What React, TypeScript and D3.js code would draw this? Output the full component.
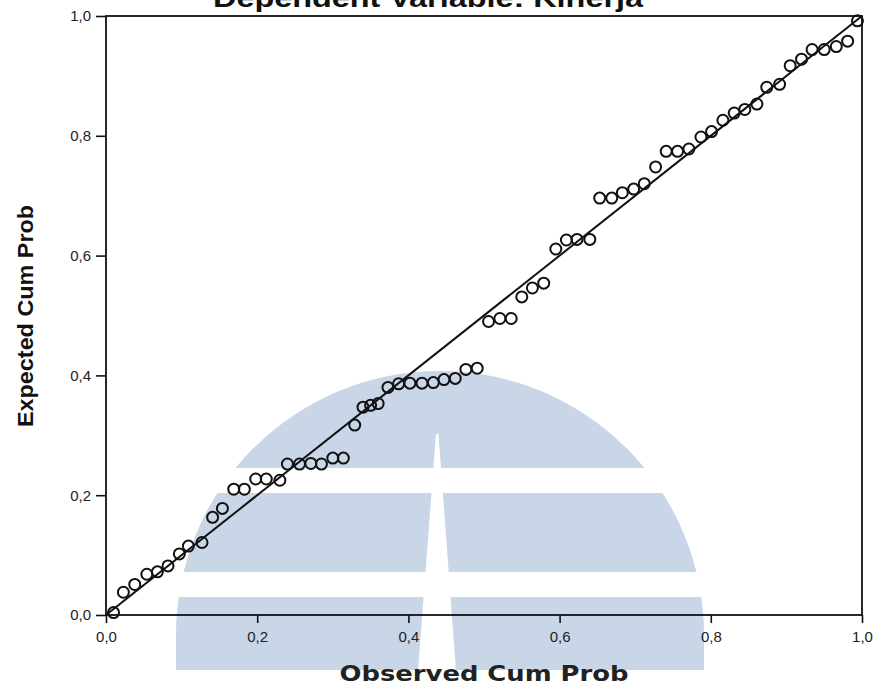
import { useRef, useEffect } from "react";
import * as d3 from "d3";

// Normal P-P plot of regression standardized residual
const observedCum = [
  0.010, 0.023, 0.038, 0.054, 0.068, 0.082, 0.097, 0.109, 0.127, 0.141,
  0.154, 0.169, 0.183, 0.198, 0.212, 0.230, 0.240, 0.256, 0.271, 0.285,
  0.300, 0.314, 0.329, 0.340, 0.350, 0.360, 0.373, 0.387, 0.402, 0.418,
  0.433, 0.447, 0.462, 0.476, 0.491, 0.506, 0.521, 0.536, 0.550, 0.564,
  0.579, 0.595, 0.609, 0.623, 0.640, 0.653, 0.669, 0.683, 0.698, 0.712,
  0.727, 0.741, 0.756, 0.771, 0.787, 0.801, 0.816, 0.831, 0.845, 0.861,
  0.874, 0.891, 0.905, 0.920, 0.934, 0.950, 0.966, 0.981, 0.994,
];
const expectedCum = [
  0.004, 0.038, 0.051, 0.068, 0.072, 0.082, 0.102, 0.115, 0.121, 0.163,
  0.178, 0.210, 0.210, 0.227, 0.227, 0.225, 0.252, 0.252, 0.253, 0.252,
  0.262, 0.262, 0.317, 0.347, 0.350, 0.353, 0.380, 0.386, 0.387, 0.387,
  0.388, 0.393, 0.395, 0.410, 0.412, 0.490, 0.495, 0.495, 0.531, 0.546,
  0.554, 0.611, 0.626, 0.627, 0.627, 0.696, 0.696, 0.705, 0.711, 0.720,
  0.748, 0.774, 0.774, 0.778, 0.798, 0.807, 0.826, 0.838, 0.844, 0.853,
  0.881, 0.886, 0.917, 0.928, 0.944, 0.944, 0.949, 0.958, 0.992,
];
const tickValues = [0, 0.2, 0.4, 0.6, 0.8, 1.0];

const width = 882;
const height = 687;
const margin = { top: 16, right: 20, bottom: 72, left: 106 };

const App = () => {
  const xAxisRef = useRef<SVGGElement>(null);
  const yAxisRef = useRef<SVGGElement>(null);

  const x = d3.scaleLinear().domain([0, 1]).range([margin.left, width - margin.right]);
  const y = d3.scaleLinear().domain([0, 1]).range([height - margin.bottom, margin.top]);
  const fmt = (d: number) => d3.format(".1f")(d).replace(".", ",");

  useEffect(() => {
    const xAxis = d3.axisBottom(x).tickValues(tickValues).tickSize(8).tickPadding(8).tickFormat(fmt as any);
    const yAxis = d3.axisLeft(y).tickValues(tickValues).tickSize(10).tickPadding(5).tickFormat(fmt as any);
    const gx = d3.select(xAxisRef.current).call(xAxis);
    const gy = d3.select(yAxisRef.current).call(yAxis);
    [gx, gy].forEach((g) => {
      g.select(".domain").remove();
      g.selectAll("line").attr("stroke", "#111").attr("stroke-width", 1.6);
      g.selectAll("text")
        .attr("font-family", "'Liberation Sans', Arial, sans-serif")
        .attr("font-size", 15)
        .attr("fill", "#222");
    });
  }, []);

  const pts = observedCum.map((o, i) => ({ o, e: expectedCum[i] }));

  // watermark logo (light blue dome)
  const cx = 440, cy = 635, r = 264, bottom = 670;
  const dome = `M${cx - r},${cy} A${r},${r} 0 0 1 ${cx + r},${cy} L${cx + r},${bottom} L${cx - r},${bottom} Z`;

  return (
    <svg width={width} height={height} style={{ position: "absolute", left: 0, top: 0, background: "#fff" }}>
      <g>
        <path d={dome} fill="#c8d6e8" />
        <rect x={cx - r - 5} y={468} width={2 * r + 10} height={25} fill="#fff" />
        <rect x={cx - r - 5} y={572} width={2 * r + 10} height={25} fill="#fff" />
        <polygon points="436,434 438.5,434 456,671 418,671" fill="#fff" />
      </g>

      <text
        x={428}
        y={7}
        textAnchor="middle"
        fontFamily="'Liberation Sans', Arial, sans-serif"
        fontWeight="bold"
        fontSize={25}
        textLength={430}
        lengthAdjust="spacingAndGlyphs"
        fill="#111"
      >
        Dependent Variable: Kinerja
      </text>

      <rect
        x={x(0)}
        y={y(1)}
        width={x(1) - x(0)}
        height={y(0) - y(1)}
        fill="none"
        stroke="#111"
        strokeWidth={1.8}
      />

      <line x1={x(0)} y1={y(0)} x2={x(1)} y2={y(1)} stroke="#111" strokeWidth={2} />

      {pts.map((d, i) => (
        <circle key={i} cx={x(d.o)} cy={y(d.e)} r={5.5} fill="none" stroke="#111" strokeWidth={2} />
      ))}

      <g ref={xAxisRef} transform={`translate(0, ${y(0)})`} />
      <g ref={yAxisRef} transform={`translate(${x(0)}, 0)`} />

      <text
        x={484}
        y={681}
        textAnchor="middle"
        fontFamily="'DejaVu Sans', Verdana, sans-serif"
        fontWeight="bold"
        fontSize={21}
        textLength={289}
        lengthAdjust="spacingAndGlyphs"
        fill="#222"
      >
        Observed Cum Prob
      </text>

      <text
        transform={`translate(33, 316) rotate(-90)`}
        textAnchor="middle"
        fontFamily="'Liberation Sans Narrow', 'Liberation Sans', Arial, sans-serif"
        fontWeight="bold"
        fontSize={22}
        textLength={222}
        lengthAdjust="spacingAndGlyphs"
        fill="#111"
      >
        Expected Cum Prob
      </text>
    </svg>
  );
};

export default App;
